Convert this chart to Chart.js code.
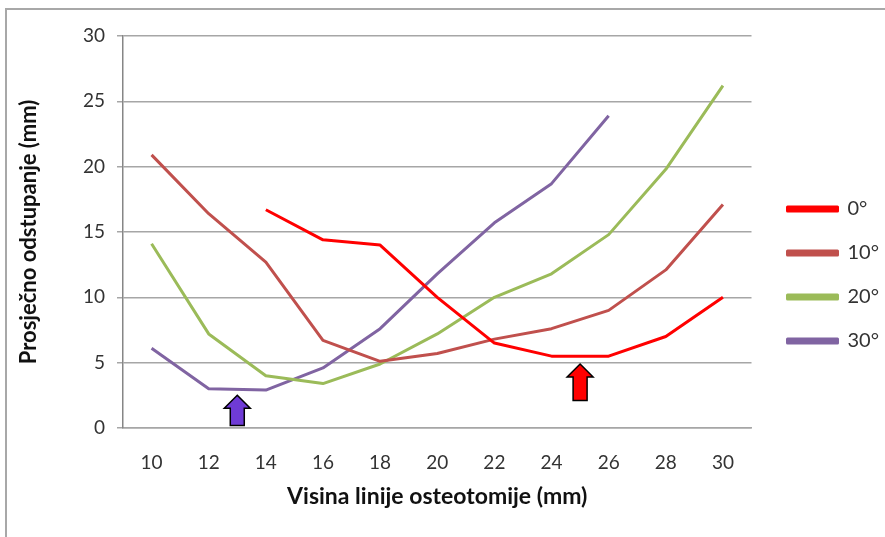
<!DOCTYPE html>
<html>
<head>
<meta charset="utf-8">
<script src="https://cdn.jsdelivr.net/npm/chart.js@4"></script>
<style>
  html, body { margin: 0; padding: 0; background: #fff; }
  #wrap { position: relative; width: 885px; height: 537px; }
  #frame { position: absolute; left: 5px; top: 8px; right: -2px; bottom: -2px;
           border-top: 2px solid #a8a8a8; border-left: 2px solid #a8a8a8; }
  canvas { position: absolute; left: 0; top: 0; }
</style>
</head>
<body>
<div id="wrap">
  <div id="frame"></div>
  <canvas id="chart" width="885" height="537"></canvas>
</div>
<script>
/* Data */
const heights = ["10", "12", "14", "16", "18", "20", "22", "24", "26", "28", "30"];
const angle0  = [null, null, 16.7, 14.4, 14.0, 10.0, 6.5, 5.5, 5.5, 7.0, 10.0];
const angle10 = [20.9, 16.4, 12.7, 6.7, 5.1, 5.7, 6.8, 7.6, 9.0, 12.1, 17.1];
const angle20 = [14.1, 7.2, 4.0, 3.4, 4.9, 7.2, 10.0, 11.8, 14.8, 19.8, 26.2];
const angle30 = [6.1, 3.0, 2.9, 4.6, 7.6, 11.8, 15.7, 18.7, 23.9, null, null];
const yTicks = [0, 5, 10, 15, 20, 25, 30];

/* Arrow markers: between which categories, and from/to values */
const arrowBetween = [["12", "14"], ["24", "26"]];
const arrowTip  = [2.5, 4.9];
const arrowBase = [0.2, 2.1];
const arrowFill = ["#6f3bd6", "#ff0000"];

const FONT = "Lato, 'Open Sans', sans-serif";

function line(label, data, color) {
  return {
    label, data,
    borderColor: color, backgroundColor: color,
    borderWidth: 3, pointRadius: 0, tension: 0,
    borderJoinStyle: "round", spanGaps: false
  };
}

/* Draw the up-arrows using the chart scales */
const arrowPlugin = {
  id: "arrows",
  afterLayout(chart) {
    // nudge legend a bit away from the plot
    chart.legend.left += 12;
    chart.legend.right += 12;
    chart.legend.top += 2;
    chart.legend.bottom += 2;
  },
  afterDatasetsDraw(chart) {
    const { ctx, scales: { x, y } } = chart;
    arrowBetween.forEach((pair, i) => {
      const cx = (x.getPixelForValue(heights.indexOf(pair[0])) +
                  x.getPixelForValue(heights.indexOf(pair[1]))) / 2;
      const top = y.getPixelForValue(arrowTip[i]);
      const bot = y.getPixelForValue(arrowBase[i]);
      const headH = 13, headW = 13, shaftW = 7;
      ctx.save();
      ctx.beginPath();
      ctx.moveTo(cx, top);
      ctx.lineTo(cx + headW, top + headH);
      ctx.lineTo(cx + shaftW, top + headH);
      ctx.lineTo(cx + shaftW, bot);
      ctx.lineTo(cx - shaftW, bot);
      ctx.lineTo(cx - shaftW, top + headH);
      ctx.lineTo(cx - headW, top + headH);
      ctx.closePath();
      ctx.fillStyle = arrowFill[i];
      ctx.fill();
      ctx.lineWidth = 1.5;
      ctx.strokeStyle = "#000";
      ctx.stroke();
      ctx.restore();
    });
  }
};

new Chart(document.getElementById("chart"), {
  type: "line",
  data: {
    labels: heights,
    datasets: [
      line("0°", angle0, "#ff0000"),
      line("10°", angle10, "#c0504d"),
      line("20°", angle20, "#9bbb59"),
      line("30°", angle30, "#8064a2")
    ]
  },
  options: {
    responsive: false,
    animation: false,
    layout: { padding: { top: 36, right: 8, bottom: 27, left: 0 } },
    plugins: {
      tooltip: { enabled: false },
      legend: {
        position: "right",
        labels: {
          boxWidth: 50, boxHeight: 4, padding: 24,
          color: "#333", font: { family: FONT, size: 20 }
        }
      }
    },
    scales: {
      x: {
        offset: true,
        grid: { display: false, drawTicks: false },
        border: { display: true, color: "#a6a6a6", width: 1.5 },
        ticks: { color: "#333", padding: 23, font: { family: FONT, size: 19 } },
        title: {
          display: true, text: "Visina linije osteotomije (mm)",
          color: "#111", font: { family: FONT, size: 23, weight: "bold" },
          padding: { top: 0, bottom: 0 }
        },
        afterFit(scale) { scale.height = 537 - 27 - 428; }
      },
      y: {
        min: 0, max: 30,
        afterBuildTicks(scale) { scale.ticks = yTicks.map(v => ({ value: v })); },
        grid: { color: "#a6a6a6", lineWidth: 1.5, tickLength: 6 },
        border: { display: true, color: "#868686", width: 1.5 },
        ticks: { color: "#333", padding: 12, font: { family: FONT, size: 19 } },
        title: {
          display: true, text: "Prosječno odstupanje (mm)",
          color: "#111", font: { family: FONT, size: 22, weight: "bold" },
          padding: { top: 16, bottom: 0 }
        },
        afterFit(scale) { scale.width = 123; }
      }
    }
  },
  plugins: [arrowPlugin]
});
</script>
</body>
</html>
